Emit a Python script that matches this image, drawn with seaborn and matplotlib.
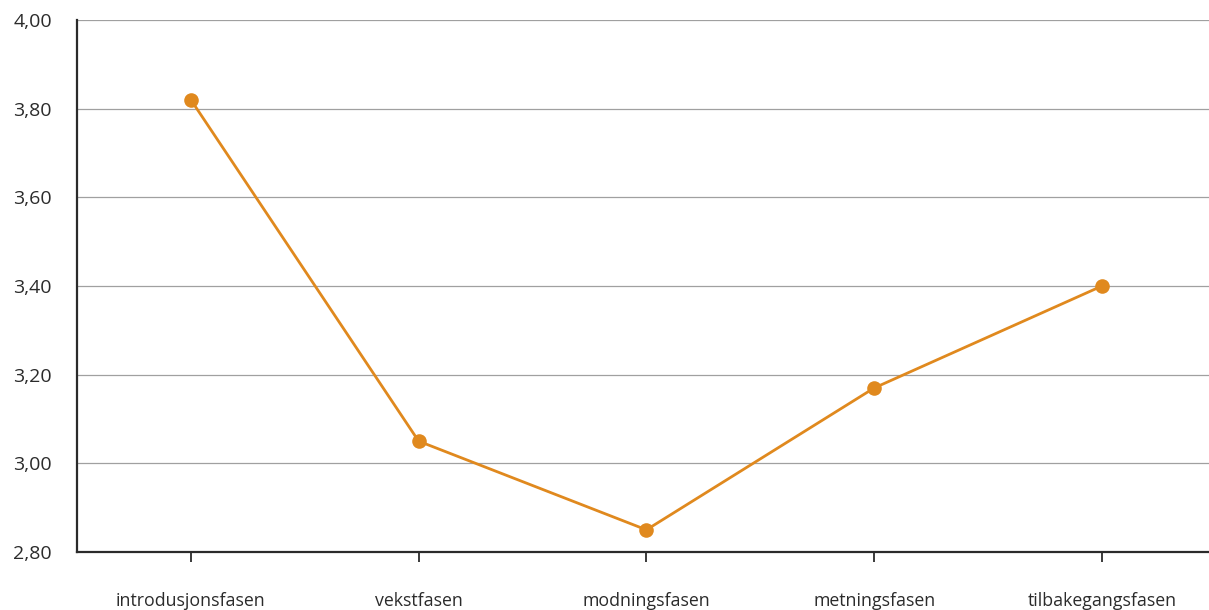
import matplotlib
matplotlib.use("Agg")
import matplotlib.pyplot as plt
import seaborn as sns
import pandas as pd
from matplotlib.ticker import FuncFormatter, MultipleLocator

phases = ["introdusjonsfasen", "vekstfasen", "modningsfasen", "metningsfasen", "tilbakegangsfasen"]
scores = [3.82, 3.05, 2.85, 3.17, 3.40]

df = pd.DataFrame({"fase": phases, "score": scores})

sns.set_theme(style="white")
plt.rcParams["font.family"] = ["Open Sans", "DejaVu Sans"]

fig = plt.figure(figsize=(12.09, 6.10), dpi=100)
ax = fig.add_axes([77 / 1209, 58 / 610, 1 - 77 / 1209, 532 / 610])

line_color = "#E0891E"
sns.lineplot(data=df, x="fase", y="score", ax=ax, color=line_color,
             linewidth=2.0, marker="o", markersize=10.5, markeredgewidth=0,
             sort=False, zorder=3)

ax.set_ylim(2.80, 4.00)
ax.set_xlim(-0.5, 4.47)
ax.yaxis.set_major_locator(MultipleLocator(0.2))
ax.yaxis.set_major_formatter(FuncFormatter(lambda v, p: f"{v:.2f}".replace(".", ",")))

ax.grid(axis="y", color="#a0a0a0", linewidth=0.9)
ax.grid(axis="x", visible=False)
ax.set_axisbelow(True)

for side in ["top", "right"]:
    ax.spines[side].set_visible(False)
for side in ["left", "bottom"]:
    ax.spines[side].set_color("#2b2b2b")
    ax.spines[side].set_linewidth(1.6)

ax.tick_params(axis="y", length=0, pad=18, labelsize=14, labelcolor="#2b2b2b")
ax.tick_params(axis="x", bottom=True, length=7, width=1.3, color="#2b2b2b",
               direction="out", pad=22, labelsize=12.8, labelcolor="#2b2b2b")
ax.set_xlabel("")
ax.set_ylabel("")

fig.savefig("out.png", dpi=100)
